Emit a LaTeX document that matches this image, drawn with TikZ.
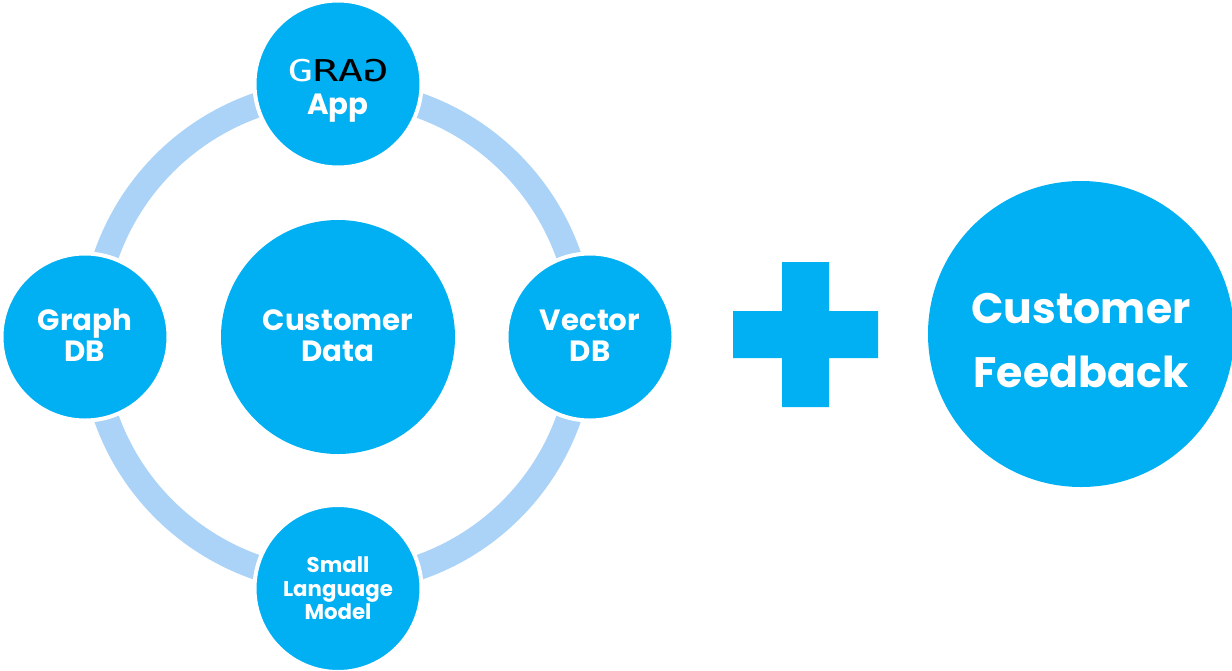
\documentclass[tikz,border=0pt]{standalone}
\usepackage{fontspec}
\setmainfont{Poppins}
\newfontfamily\logofont{DejaVu Sans Mono}
\usetikzlibrary{backgrounds,calc}
\definecolor{bubbleblue}{HTML}{00B0F2}
\definecolor{ringblue}{HTML}{AAD3F7}
\newcommand{\sized}[2]{\fontsize{#1}{#2}\selectfont}
\newcommand{\logoletter}[1]{\makebox[25pt]{\scalebox{1.4}[1]{#1}}}
\tikzset{
  bubble/.style={circle, fill=bubbleblue, text=white, inner sep=0pt, align=center},
  ringnode/.style={bubble, draw=white, line width=4pt, minimum size=167pt},
  ringarc/.style={draw=ringblue, line width=25pt},
  midtext/.style={font=\bfseries\sized{29.3}{31}, text height=56pt, text depth=8pt},
}
\begin{document}
\begin{tikzpicture}[x=1pt,y=-1pt]
    \useasboundingbox (0,0) rectangle (1232,670);

    % Ring nodes
    \node[ringnode] (app) at (338,84) {};
    \node[ringnode, midtext] (vector) at (590,337) {Vector\\DB};
    \node[ringnode, font=\bfseries\sized{21.3}{23.5}] (slm) at (338,588.5) {Small\\Language\\Model};
    \node[ringnode, midtext] (graph) at (85,337) {Graph\\DB};

    % Labels of the top node
    \node[inner sep=0pt, font=\logofont\sized{30}{30}] (logo) at (338,71)
        {\textcolor{white}{\logoletter{G}}\textcolor{black}{\logoletter{R}\logoletter{A}\logoletter{\reflectbox{G}}}};
    \node[inner sep=0pt, text=white, font=\bfseries\sized{29.3}{31}] (applabel) at (338,108.5) {App};

    % Centre and right
    \node[bubble, midtext, minimum size=234pt] (data) at (338,337) {Customer\\Data};
    \node[bubble, minimum size=306pt] (feedback) at (1081,334) {};
    \node[inner sep=0pt, align=center, text=white, font=\bfseries\sized{42.6}{64}] (feedbacklabel) at (1081,341) {Customer\\Feedback};

    % Plus sign
    \fill[bubbleblue] (733,311) -- (782,311) -- (782,262) -- (829,262) -- (829,311) -- (878,311)
        -- (878,358) -- (829,358) -- (829,407) -- (782,407) -- (782,358) -- (733,358) -- cycle;

    % Ring
    \coordinate (ringn) at ($(app.center)!7.5pt!(data.center)$);
    \coordinate (ringe) at ($(vector.center)!7.5pt!(data.center)$);
    \coordinate (rings) at ($(slm.center)!7.5pt!(data.center)$);
    \coordinate (ringw) at ($(graph.center)!7.5pt!(data.center)$);
    \begin{scope}[on background layer]
        \draw[ringarc] (ringn) to[out=0,in=90] (ringe);
        \draw[ringarc] (ringe) to[out=-90,in=0] (rings);
        \draw[ringarc] (rings) to[out=180,in=-90] (ringw);
        \draw[ringarc] (ringw) to[out=90,in=180] (ringn);
    \end{scope}
\end{tikzpicture}
\end{document}
